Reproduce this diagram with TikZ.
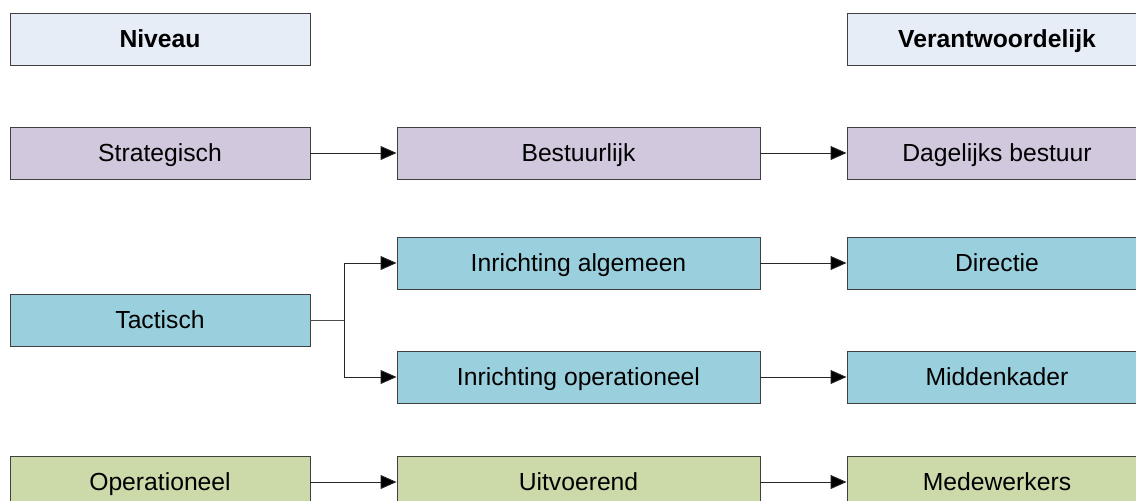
\documentclass[tikz,border=0pt]{standalone}
\usepackage{fontspec}
\setmainfont{Liberation Sans}
\usetikzlibrary{arrows.meta}
\definecolor{hdr}{HTML}{E6EDF7}
\definecolor{purp}{HTML}{D2C8DE}
\definecolor{teal}{HTML}{9AD0DD}
\definecolor{grn}{HTML}{CCDAAA}
\definecolor{edge}{HTML}{404040}
\tikzset{
  box/.style={draw=edge, line width=0.9pt, minimum height=52pt, inner sep=0pt,
    text height=17.7pt, text depth=0pt,
    font=\fontsize{24.7}{29}\selectfont, text=black},
  lbox/.style={box, minimum width=300pt},
  mbox/.style={box, minimum width=363pt},
  arr/.style={draw=black!85, line width=0.9pt, -{Triangle[length=16pt,width=14pt,fill=black]}},
  ln/.style={draw=black!70, line width=0.9pt}
}
\begin{document}
\begin{tikzpicture}[x=1pt,y=-1pt]
\useasboundingbox (0,0) rectangle (1136,501);
\node[lbox, fill=hdr, font=\fontsize{24.7}{29}\selectfont\bfseries] (niv) at (160,39) {Niveau};
\node[lbox, fill=hdr, font=\fontsize{24.7}{29}\selectfont\bfseries] (ver) at (997,39) {Verantwoordelijk};
\node[lbox, fill=purp] (str) at (160,153) {Strategisch};
\node[mbox, fill=purp] (bes) at (578.5,153) {Bestuurlijk};
\node[lbox, fill=purp] (dag) at (997,153) {Dagelijks bestuur};
\node[mbox, fill=teal] (ia) at (578.5,263) {Inrichting algemeen};
\node[lbox, fill=teal] (dir) at (997,263) {Directie};
\node[lbox, fill=teal] (tac) at (160,320) {Tactisch};
\node[mbox, fill=teal] (io) at (578.5,377) {Inrichting operationeel};
\node[lbox, fill=teal] (mid) at (997,377) {Middenkader};
\node[lbox, fill=grn] (ope) at (160,482) {Operationeel};
\node[mbox, fill=grn] (uit) at (578.5,482) {Uitvoerend};
\node[lbox, fill=grn] (med) at (997,482) {Medewerkers};
\coordinate (j) at (344,320);
\draw[arr] (str) -- (bes);
\draw[arr] (bes) -- (dag);
\draw[ln] (tac) -- (j);
\draw[arr] (j) |- (ia.west);
\draw[arr] (j) |- (io.west);
\draw[arr] (ia) -- (dir);
\draw[arr] (io) -- (mid);
\draw[arr] (ope) -- (uit);
\draw[arr] (uit) -- (med);
\end{tikzpicture}
\end{document}
